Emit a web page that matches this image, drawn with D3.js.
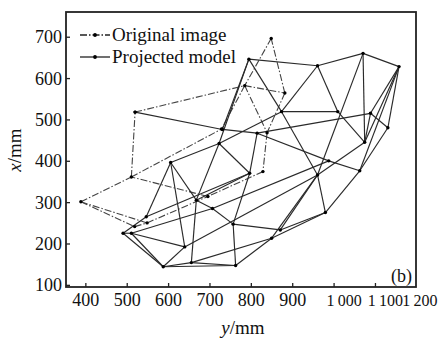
<!DOCTYPE html>
<html>
<head>
<meta charset="utf-8">
<script src="https://cdn.jsdelivr.net/npm/d3@7"></script>
<style>
  body { margin: 0; background: #fff; }
  text { font-family: "Liberation Serif", "Times New Roman", serif; fill: #111; }
</style>
</head>
<body>
<svg id="chart" width="439" height="338"></svg>
<script>
// node positions [y (horizontal), x (vertical)] in mm
const originalNodes = [
  [388, 302], [510, 362], [519, 519], [784, 583], [881, 565], [848, 697],
  [838, 469], [828, 375], [695, 315], [518, 242], [548, 251], [728, 478]
];
const originalEdges = [
  [0, 1], [1, 2], [2, 3], [3, 4], [4, 5], [5, 3], [3, 11], [3, 6], [4, 6],
  [6, 7], [7, 8], [8, 1], [1, 11], [0, 9], [0, 10], [9, 10], [10, 8]
];

const projectedNodes = [
  [490, 226], [510, 226], [546, 266], [605, 397], [639, 193], [587, 145],
  [655, 155], [762, 148], [667, 306], [706, 286], [756, 248], [849, 214],
  [870, 234], [979, 276], [960, 367], [1062, 377], [987, 401], [1074, 446],
  [1130, 481], [1088, 516], [1009, 520], [1157, 629], [1070, 661], [960, 631],
  [794, 647], [873, 520], [730, 477], [722, 443], [796, 371], [814, 468],
  [519, 519]
];
const projectedEdges = [
  [0, 1], [0, 5], [1, 5], [0, 2], [1, 4], [2, 3], [3, 4], [4, 5], [5, 6],
  [6, 7], [5, 7], [3, 8], [3, 27], [8, 27], [8, 6], [8, 9], [9, 10], [10, 12],
  [10, 7], [7, 11], [11, 13], [12, 13], [13, 15], [15, 18], [18, 21], [21, 19],
  [21, 17], [21, 15], [19, 17], [19, 18], [22, 21], [23, 22], [24, 23], [23, 25],
  [23, 20], [25, 20], [22, 17], [22, 14], [20, 17], [24, 25], [25, 14], [24, 26],
  [24, 27], [30, 26], [26, 29], [29, 19], [29, 16], [16, 15], [27, 25], [29, 28],
  [28, 8], [28, 10], [27, 28], [12, 14], [11, 14], [14, 13], [17, 14], [2, 28],
  [9, 16], [4, 14], [6, 11], [1, 9]
];

const xTicks = [400, 500, 600, 700, 800, 900, 1000, 1100, 1200];
const xTickLabels = ['400', '500', '600', '700', '800', '900', '1\u2009000', '1\u2009100', '1\u2009200'];
const xLabelShift = [0, 0, 0, 0, 0, 0, 10, 10, 3];
const yTicks = [100, 200, 300, 400, 500, 600, 700];

const svg = d3.select('#chart');
const frame = { left: 66, right: 416, top: 12, bottom: 287 };

const x = d3.scaleLinear().domain([352, 1198]).range([frame.left, frame.right]);
const y = d3.scaleLinear().domain([96, 761]).range([frame.bottom, frame.top]);

const plot = svg.append('g');

// original image (dash-dot)
plot.selectAll('line.orig')
  .data(originalEdges)
  .enter()
  .append('line')
  .attr('class', 'orig')
  .attr('x1', (d) => x(originalNodes[d[0]][0]))
  .attr('y1', (d) => y(originalNodes[d[0]][1]))
  .attr('x2', (d) => x(originalNodes[d[1]][0]))
  .attr('y2', (d) => y(originalNodes[d[1]][1]))
  .attr('stroke', '#444')
  .attr('stroke-width', 1.1)
  .attr('stroke-dasharray', '7,2,1.5,2');

// projected model (solid)
plot.selectAll('line.proj')
  .data(projectedEdges)
  .enter()
  .append('line')
  .attr('class', 'proj')
  .attr('x1', (d) => x(projectedNodes[d[0]][0]))
  .attr('y1', (d) => y(projectedNodes[d[0]][1]))
  .attr('x2', (d) => x(projectedNodes[d[1]][0]))
  .attr('y2', (d) => y(projectedNodes[d[1]][1]))
  .attr('stroke', '#2a2a2a')
  .attr('stroke-width', 1.15);

plot.selectAll('circle.n')
  .data(originalNodes.concat(projectedNodes))
  .enter()
  .append('circle')
  .attr('class', 'n')
  .attr('cx', (d) => x(d[0]))
  .attr('cy', (d) => y(d[1]))
  .attr('r', 1.7)
  .attr('fill', '#000');

// frame
svg.append('rect')
  .attr('x', frame.left).attr('y', frame.top)
  .attr('width', frame.right - frame.left).attr('height', frame.bottom - frame.top)
  .attr('fill', 'none').attr('stroke', '#222').attr('stroke-width', 1.8);

// ticks (inward)
svg.selectAll('line.xt')
  .data(xTicks.slice(0, -1))
  .enter()
  .append('line')
  .attr('x1', (d) => x(d)).attr('x2', (d) => x(d))
  .attr('y1', frame.bottom).attr('y2', frame.bottom - 4)
  .attr('stroke', '#222').attr('stroke-width', 1.3);

svg.selectAll('text.xl')
  .data(xTicks)
  .enter()
  .append('text')
  .attr('x', (d, i) => x(d) + xLabelShift[i])
  .attr('y', 306)
  .attr('text-anchor', 'middle')
  .attr('font-size', (d) => (d >= 1000 ? 16 : 18))
  .text((d, i) => xTickLabels[i]);

svg.selectAll('line.yt')
  .data(yTicks)
  .enter()
  .append('line')
  .attr('x1', frame.left).attr('x2', frame.left + 4)
  .attr('y1', (d) => y(d)).attr('y2', (d) => y(d))
  .attr('stroke', '#222').attr('stroke-width', 1.3);

svg.selectAll('text.yl')
  .data(yTicks)
  .enter()
  .append('text')
  .attr('x', 62)
  .attr('y', (d) => y(d) + 6)
  .attr('text-anchor', 'end')
  .attr('font-size', 18)
  .text((d) => d);

// axis titles
const xt = svg.append('text')
  .attr('x', 243).attr('y', 334)
  .attr('text-anchor', 'middle')
  .attr('font-size', 19);
xt.append('tspan').attr('font-style', 'italic').text('y');
xt.append('tspan').text('/mm');

const yt = svg.append('text')
  .attr('transform', 'translate(21,150) rotate(-90)')
  .attr('text-anchor', 'middle')
  .attr('font-size', 19);
yt.append('tspan').attr('font-style', 'italic').text('x');
yt.append('tspan').text('/mm');

// legend
const legend = [
  { label: 'Original image', dash: '7,2,1.5,2', y: 35 },
  { label: 'Projected model', dash: null, y: 57 }
];
const lg = svg.selectAll('g.lg').data(legend).enter().append('g');
lg.append('line')
  .attr('x1', 80).attr('x2', 110)
  .attr('y1', (d) => d.y).attr('y2', (d) => d.y)
  .attr('stroke', '#222').attr('stroke-width', 1.3)
  .attr('stroke-dasharray', (d) => d.dash);
lg.append('circle')
  .attr('cx', 95).attr('cy', (d) => d.y).attr('r', 1.9).attr('fill', '#000');
lg.append('text')
  .attr('x', 112).attr('y', (d) => d.y + 6)
  .attr('font-size', 19)
  .text((d) => d.label);

svg.append('text')
  .attr('x', 412).attr('y', 282)
  .attr('text-anchor', 'end')
  .attr('font-size', 18)
  .text('(b)');
</script>
</body>
</html>
